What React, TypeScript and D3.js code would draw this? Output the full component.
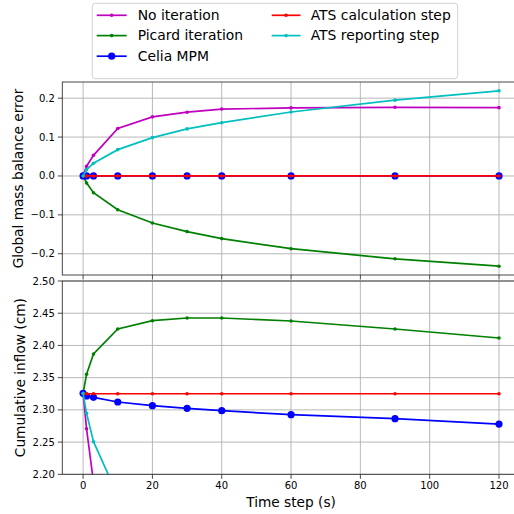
import React from "react";
import * as d3 from "d3";

const steps = [0, 1, 3, 10, 20, 30, 40, 60, 90, 120];

// Global mass balance error
const mbNoIteration = [0, 0.025, 0.053, 0.122, 0.152, 0.164, 0.172, 0.175, 0.1766, 0.1756];
const mbPicard = [0, -0.018, -0.043, -0.087, -0.121, -0.143, -0.161, -0.187, -0.213, -0.232];
const mbCelia = [0, 0, 0, 0, 0, 0, 0, 0, 0, 0];
const mbAtsCalc = [0, 0, 0, 0, 0, 0, 0, 0, 0, 0];
const mbAtsReport = [0, 0.016, 0.0326, 0.0677, 0.0985, 0.121, 0.137, 0.1645, 0.195, 0.219];

// Cumulative inflow (cm)
const inNoIteration = [2.3257, 2.2705, 2.188, 1.95, 1.75, 1.62, 1.52, 1.38, 1.25, 1.15];
const inPicard = [2.3257, 2.3552, 2.3867, 2.4255, 2.4384, 2.4426, 2.4426, 2.4379, 2.4255, 2.4115];
const inCelia = [2.3257, 2.3215, 2.3195, 2.3122, 2.3065, 2.3024, 2.2987, 2.2925, 2.2863, 2.278];
const inAtsCalc = [2.325, 2.325, 2.325, 2.325, 2.325, 2.325, 2.325, 2.325, 2.325, 2.325];
const inAtsReport = [2.3257, 2.2947, 2.2506, 2.167, 2.08, 2.02, 1.97, 1.9, 1.83, 1.78];

const seriesLabels = ["No iteration", "Picard iteration", "Celia MPM", "ATS calculation step", "ATS reporting step"];
const seriesColors = ["#bf00bf", "#008000", "#0000ff", "#ff0000", "#00bfbf"];
const seriesMarkerR = [1.8, 1.8, 3.6, 1.8, 1.8];

const xTicks = [0, 20, 40, 60, 80, 100, 120];
const topTicks = [-0.2, -0.1, 0.0, 0.1, 0.2];
const bottomTicks = [2.2, 2.25, 2.3, 2.35, 2.4, 2.45, 2.5];

const FONT = "DejaVu Sans, Liberation Sans, sans-serif";

export default function App() {
  const W = 514, H = 514;
  const x = d3.scaleLinear().domain([-6, 126]).range([62.3, 519.8]);
  const yTop = d3.scaleLinear().domain([-0.2546, 0.2416]).range([275, 82]);
  const yBot = d3.scaleLinear().domain([2.2, 2.5]).range([474.3, 281]);

  const mbSeries = [mbNoIteration, mbPicard, mbCelia, mbAtsCalc, mbAtsReport];
  const inSeries = [inNoIteration, inPicard, inCelia, inAtsCalc, inAtsReport];

  const lineGen = (ys: d3.ScaleLinear<number, number>) =>
    d3.line<[number, number]>().x((d) => x(d[0])).y((d) => ys(d[1]));

  const gridColor = "#b0b0b0";
  const spineColor = "#333";

  const renderPanel = (
    key: string,
    ys: d3.ScaleLinear<number, number>,
    yTicks: number[],
    fmt: (v: number) => string,
    data: number[][],
    showXLabels: boolean
  ) => {
    const [y0, y1] = ys.range();
    const x0 = x.range()[0];
    const x1 = x.range()[1];
    const lg = lineGen(ys);
    return (
      <g key={key}>
        <defs>
          <clipPath id={`clip-${key}`}>
            <rect x={x0} y={y1} width={x1 - x0} height={y0 - y1} />
          </clipPath>
        </defs>
        {/* grid */}
        {xTicks.map((t) => (
          <line key={`gx${t}`} x1={x(t)} x2={x(t)} y1={y1} y2={y0} stroke={gridColor} strokeWidth={0.9} />
        ))}
        {yTicks.map((t) => (
          <line key={`gy${t}`} x1={x0} x2={x1} y1={ys(t)} y2={ys(t)} stroke={gridColor} strokeWidth={0.9} />
        ))}
        {/* series */}
        <g clipPath={`url(#clip-${key})`}>
          {data.map((vals, i) => {
            const pts: [number, number][] = steps.map((s, j) => [s, vals[j]]);
            return (
              <g key={i}>
                <path d={lg(pts) || ""} fill="none" stroke={seriesColors[i]} strokeWidth={1.7} />
                {pts.map((p, j) => (
                  <circle key={j} cx={x(p[0])} cy={ys(p[1])} r={seriesMarkerR[i]} fill={seriesColors[i]} />
                ))}
              </g>
            );
          })}
        </g>
        {/* spines */}
        <rect x={x0} y={y1} width={x1 - x0} height={y0 - y1} fill="none" stroke={spineColor} strokeWidth={0.9} />
        {/* y ticks */}
        {yTicks.map((t) => (
          <g key={`ty${t}`}>
            <line x1={x0 - 4.5} x2={x0} y1={ys(t)} y2={ys(t)} stroke={spineColor} strokeWidth={0.9} />
            <text x={x0 - 7.5} y={ys(t)} dy="0.35em" textAnchor="end" fontSize={10} fontFamily={FONT} fill="#000">
              {fmt(t)}
            </text>
          </g>
        ))}
        {/* x ticks */}
        {xTicks.map((t) => (
          <g key={`tx${t}`}>
            <line x1={x(t)} x2={x(t)} y1={y0} y2={y0 + 4.5} stroke={spineColor} strokeWidth={0.9} />
            {showXLabels && (
              <text x={x(t)} y={y0 + 11.5} dy="0.35em" textAnchor="middle" fontSize={10} fontFamily={FONT} fill="#000">
                {t}
              </text>
            )}
          </g>
        ))}
      </g>
    );
  };

  const fmtTop = (v: number) => d3.format(".1f")(v).replace("-", "\u2212");
  const fmtBot = (v: number) => d3.format(".2f")(v);

  // legend layout
  const legendRows = [15.3, 35.6, 56.2];
  const legendCols = [
    { hx0: 96.7, hx1: 126.7, tx: 137.7 },
    { hx0: 271.7, hx1: 300.5, tx: 310.7 },
  ];
  const legendItems = seriesLabels.map((label, i) => {
    const col = i < 3 ? 0 : 1;
    const row = i < 3 ? i : i - 3;
    return { label, i, col, row };
  });

  return (
    <svg
      width={W}
      height={H}
      style={{ position: "fixed", left: 0, top: 0, background: "#fff" }}
      xmlns="http://www.w3.org/2000/svg"
    >
      <rect x={0} y={0} width={W} height={H} fill="#fff" />
      {renderPanel("top", yTop, topTicks, fmtTop, mbSeries, false)}
      {renderPanel("bot", yBot, bottomTicks, fmtBot, inSeries, true)}

      {/* axis labels */}
      <text
        transform={`translate(18,${(82 + 275) / 2}) rotate(-90)`}
        textAnchor="middle"
        dy="0.35em"
        fontSize={13.7}
        fontFamily={FONT}
      >
        Global mass balance error
      </text>
      <text
        transform={`translate(20,${(281 + 474.3) / 2}) rotate(-90)`}
        textAnchor="middle"
        dy="0.35em"
        fontSize={13.7}
        fontFamily={FONT}
      >
        Cumulative inflow (cm)
      </text>
      <text x={(x.range()[0] + x.range()[1]) / 2} y={502.7} dy="0.35em" textAnchor="middle" fontSize={13.7} fontFamily={FONT}>
        Time step (s)
      </text>

      {/* legend */}
      <rect x={92.3} y={3.3} width={365.4} height={75.4} rx={3} ry={3} fill="#fff" fillOpacity={0.8} stroke="#cccccc" strokeWidth={0.9} />
      {legendItems.map(({ label, i, col, row }) => {
        const c = legendCols[col];
        const yy = legendRows[row];
        return (
          <g key={label}>
            <line x1={c.hx0} x2={c.hx1} y1={yy} y2={yy} stroke={seriesColors[i]} strokeWidth={1.7} />
            <circle cx={(c.hx0 + c.hx1) / 2} cy={yy} r={seriesMarkerR[i]} fill={seriesColors[i]} />
            <text x={c.tx} y={yy} dy="0.35em" fontSize={13.9} fontFamily={FONT}>
              {label}
            </text>
          </g>
        );
      })}
    </svg>
  );
}
